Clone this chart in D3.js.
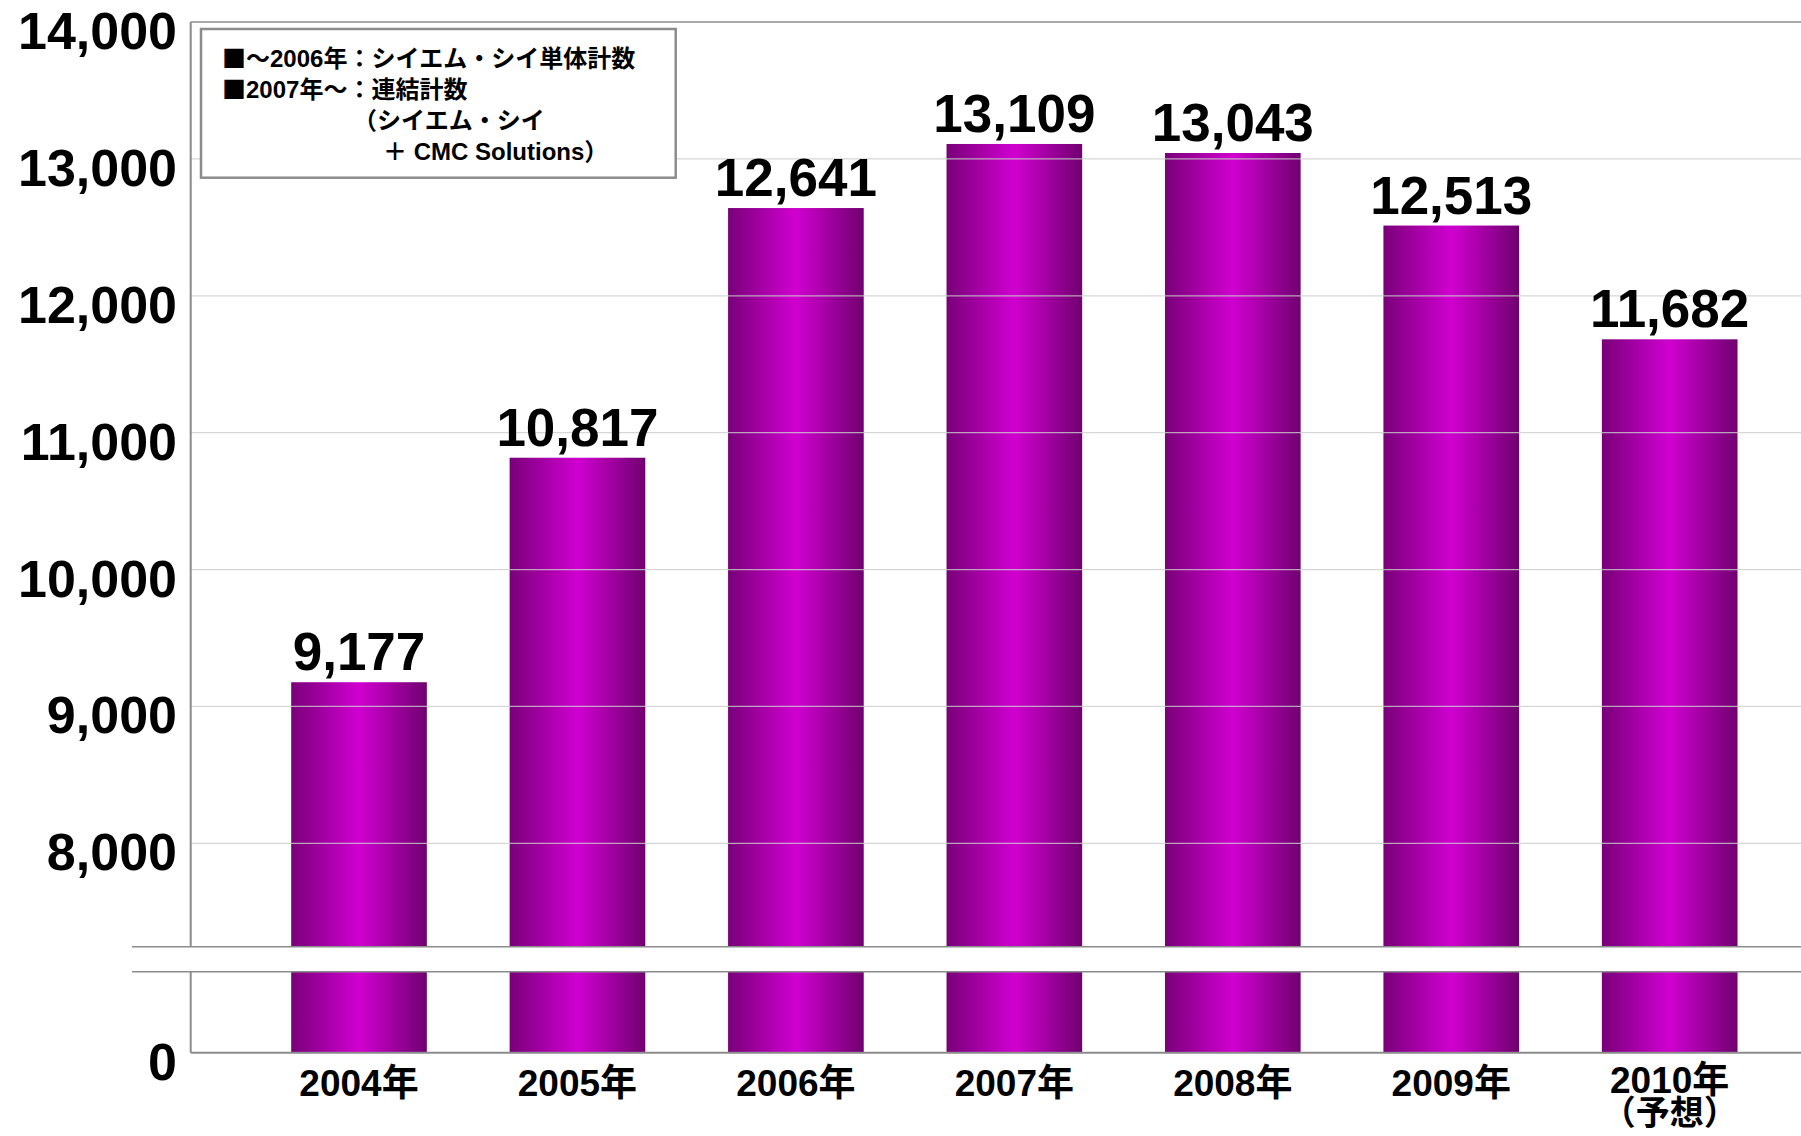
<!DOCTYPE html>
<html>
<head>
<meta charset="utf-8">
<script src="https://cdn.jsdelivr.net/npm/d3@7"></script>
<style>
  body { margin: 0; background: #fff; }
  svg { display: block; }
</style>
</head>
<body>
<div id="chart"></div>
<script>
// data
const years = ["2004年", "2005年", "2006年", "2007年", "2008年", "2009年", "2010年"];
const yearNotes = ["", "", "", "", "", "", "（予想）"];
const counts = [9177, 10817, 12641, 13109, 13043, 12513, 11682];
const yTicks = [8000, 9000, 10000, 11000, 12000, 13000, 14000];
const legendLines = [
  "■～2006年：シイエム・シイ単体計数",
  "■2007年～：連結計数",
  "（シイエム・シイ",
  "＋ CMC Solutions）"
];

const width = 1801, height = 1136;
const plotLeft = 190.7, plotRight = 1801, plotTop = 22;
const breakTop = 946.7, breakBottom = 971.7, baseY = 1052.7;
const breakValue = 7245, lowMax = 592;
const latin = "'Liberation Sans', Arial, 'Noto Sans CJK JP', sans-serif";
const cjk = "'Noto Sans CJK JP', sans-serif";
const fmt = d3.format(",");

const svg = d3.select("#chart")
  .append("svg")
  .attr("width", width)
  .attr("height", height);

const grad = svg.append("defs").append("linearGradient")
  .attr("id", "barGrad")
  .attr("x1", "0").attr("x2", "1").attr("y1", "0").attr("y2", "0");
grad.append("stop").attr("offset", "0%").attr("stop-color", "#790079");
grad.append("stop").attr("offset", "50%").attr("stop-color", "#d000d0");
grad.append("stop").attr("offset", "100%").attr("stop-color", "#700070");

const x = d3.scaleBand().domain(years).range([plotLeft, 1838])
  .paddingInner(0.379).paddingOuter(0.46);
const yTop = d3.scaleLinear().domain([breakValue, 14000]).range([breakTop, plotTop]);
const yLow = d3.scaleLinear().domain([0, lowMax]).range([baseY, breakBottom]);

const data = years.map((y, i) => ({ year: y, note: yearNotes[i], value: counts[i] }));

// bars, upper part
svg.selectAll(".barTop").data(data).enter().append("rect")
  .attr("x", d => x(d.year))
  .attr("y", d => yTop(d.value))
  .attr("width", x.bandwidth())
  .attr("height", d => yTop(breakValue) - yTop(d.value))
  .attr("fill", "url(#barGrad)");

// bars, part below the break
svg.selectAll(".barLow").data(data).enter().append("rect")
  .attr("x", d => x(d.year))
  .attr("y", yLow(lowMax))
  .attr("width", x.bandwidth())
  .attr("height", yLow(0) - yLow(lowMax))
  .attr("fill", "url(#barGrad)");

// gridlines over the bars
svg.selectAll(".grid").data(yTicks.filter(t => t < 14000)).enter().append("line")
  .attr("x1", plotLeft).attr("x2", plotRight)
  .attr("y1", d => yTop(d)).attr("y2", d => yTop(d))
  .attr("stroke", "#cccccc")
  .attr("stroke-opacity", 0.8)
  .attr("stroke-width", 1.2);

// frame, axis and break lines
const lineColor = "#8c8c8c";
svg.append("line").attr("x1", plotLeft).attr("x2", plotRight)
  .attr("y1", yTop(14000)).attr("y2", yTop(14000))
  .attr("stroke", lineColor).attr("stroke-width", 1.5);
svg.append("line").attr("x1", plotLeft).attr("x2", plotLeft)
  .attr("y1", plotTop).attr("y2", breakTop)
  .attr("stroke", lineColor).attr("stroke-width", 2);
svg.append("line").attr("x1", plotLeft).attr("x2", plotLeft)
  .attr("y1", breakBottom).attr("y2", baseY)
  .attr("stroke", lineColor).attr("stroke-width", 2);
svg.append("line").attr("x1", plotLeft).attr("x2", plotRight)
  .attr("y1", baseY).attr("y2", baseY)
  .attr("stroke", lineColor).attr("stroke-width", 2);
[breakTop, breakBottom].forEach(yy => {
  svg.append("line").attr("x1", 132).attr("x2", plotRight)
    .attr("y1", yy).attr("y2", yy)
    .attr("stroke", lineColor).attr("stroke-width", 1.5);
});

// y tick labels
function styleAxis(g) {
  g.select(".domain").remove();
  g.selectAll("text")
    .attr("dy", "0.51em")
    .style("font-family", latin)
    .style("font-weight", "bold")
    .style("font-size", "52px")
    .attr("fill", "#000");
}
svg.append("g").attr("transform", `translate(${plotLeft},0)`)
  .call(d3.axisLeft(yTop).tickValues(yTicks).tickSize(0).tickPadding(13.7).tickFormat(fmt))
  .call(styleAxis);
svg.append("g").attr("transform", `translate(${plotLeft},0)`)
  .call(d3.axisLeft(yLow).tickValues([0]).tickSize(0).tickPadding(13.7).tickFormat(fmt))
  .call(styleAxis);

// value labels
svg.selectAll(".val").data(data).enter().append("text")
  .attr("x", d => x(d.year) + x.bandwidth() / 2)
  .attr("y", d => yTop(d.value) - 12)
  .attr("text-anchor", "middle")
  .style("font-family", latin)
  .style("font-weight", "bold")
  .style("font-size", "53px")
  .text(d => fmt(d.value));

// x labels (the one with a note sits a little higher)
const xl = svg.selectAll(".xl").data(data).enter().append("text")
  .attr("x", d => x(d.year) + x.bandwidth() / 2)
  .attr("y", d => d.note ? 1093 : 1096)
  .attr("text-anchor", "middle")
  .style("font-family", latin)
  .style("font-weight", "bold")
  .style("font-size", "37px");
xl.append("tspan").text(d => d.year);
xl.filter(d => d.note).append("tspan")
  .attr("x", d => x(d.year) + x.bandwidth() / 2)
  .attr("dy", 32)
  .style("font-family", cjk)
  .style("font-size", "34px")
  .text(d => d.note);

// legend box
svg.append("rect")
  .attr("x", 201).attr("y", 29)
  .attr("width", 474.7).attr("height", 148.7)
  .attr("fill", "#fff")
  .attr("stroke", lineColor)
  .attr("stroke-width", 2.5);

const legendX = [222, 222, 353, 383];
const legend = svg.selectAll(".leg").data(legendLines).enter().append("text")
  .attr("x", (d, i) => legendX[i])
  .attr("y", (d, i) => 66.5 + i * 31)
  .style("font-family", latin)
  .style("font-weight", "bold")
  .style("font-size", "24px");
legend.each(function(d) {
  const t = d3.select(this);
  if (d.startsWith("■")) {
    t.append("tspan").style("font-family", cjk).text("■");
    t.append("tspan").text(d.slice(1));
  } else {
    t.append("tspan").text(d);
  }
});
</script>
</body>
</html>
